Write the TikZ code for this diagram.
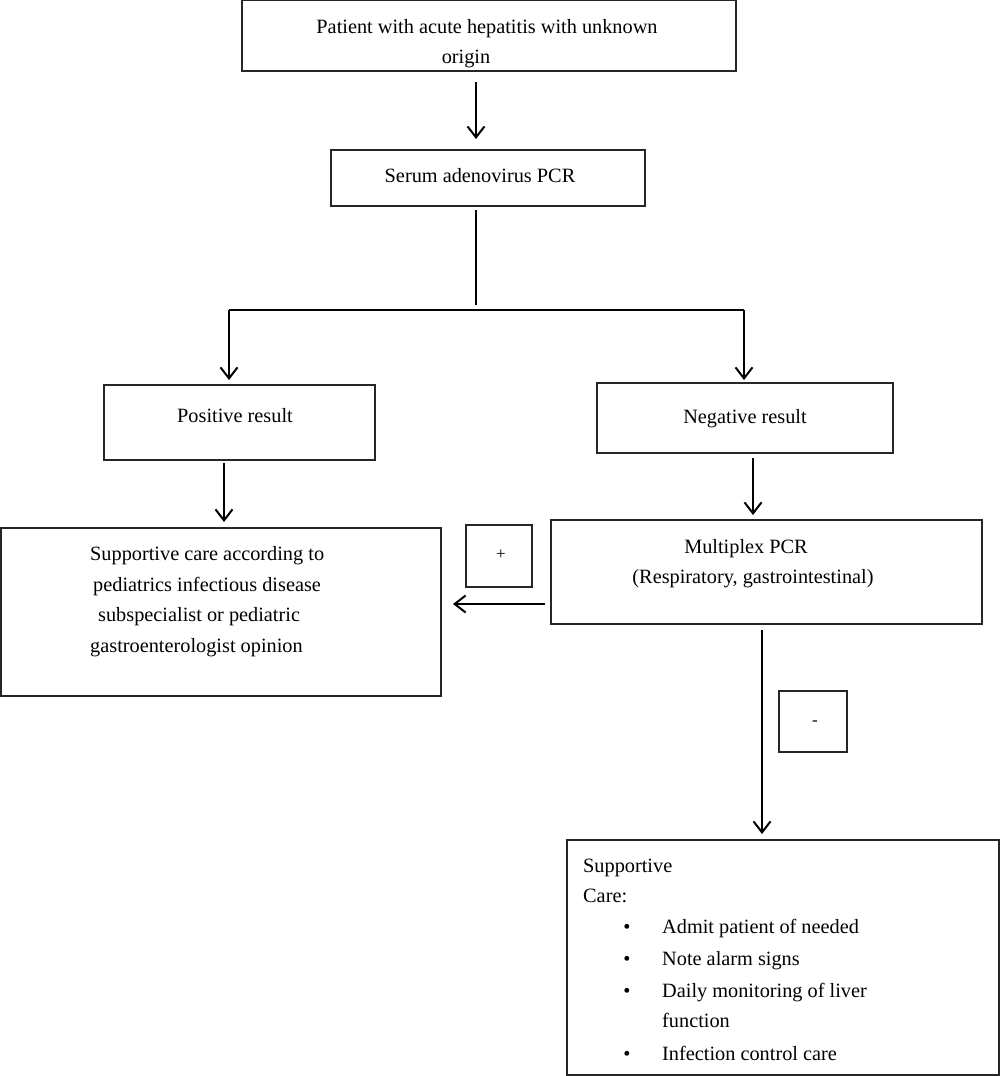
\documentclass[tikz,border=0pt]{standalone}
\usepackage{fontspec}
\setmainfont{Liberation Serif}
\usetikzlibrary{arrows.meta}
\begin{document}
\begin{tikzpicture}[x=1pt,y=-1pt,
  box/.style={draw=black!85,line width=1.2pt,inner sep=0pt,rectangle},
  txt/.style={inner sep=0pt,font=\fontsize{20.3}{31}\selectfont},
  arr/.style={line width=2pt,-{Straight Barb[length=11pt,width=17pt,line width=2pt]}},
  ln/.style={line width=2pt}]
\useasboundingbox (0,0) rectangle (1000,1076);
% boxes
\node[box,minimum width=494,minimum height=71] (b1) at (489,35.5) {};
\node[box,minimum width=314,minimum height=56] (b2) at (488,178) {};
\node[box,minimum width=271,minimum height=75] (pos) at (239.5,422.5) {};
\node[box,minimum width=296,minimum height=70] (neg) at (745,418) {};
\node[box,minimum width=440,minimum height=168] (sup) at (221,612) {};
\node[box,minimum width=66,minimum height=62] (plus) at (499,556) {};
\node[box,minimum width=431,minimum height=104] (mpx) at (766.5,572) {};
\node[box,minimum width=68,minimum height=61] (minus) at (813,721.5) {};
\node[box,minimum width=432,minimum height=235] (care) at (783,957.5) {};
% texts
\node[txt,anchor=base] (t1a) at (487,33) {Patient with acute hepatitis with unknown};
\node[txt,anchor=base] (t1b) at (466,63) {origin};
\node[txt,anchor=base] (t2) at (480,182) {Serum adenovirus PCR};
\node[txt,anchor=base] (tpos) at (235,422) {Positive result};
\node[txt,anchor=base] (tneg) at (745,423) {Negative result};
\node[txt,anchor=base west] (ts1) at (90,560) {Supportive care according to};
\node[txt,anchor=base west] (ts2) at (93,591) {pediatrics infectious disease};
\node[txt,anchor=base west] (ts3) at (98,621) {subspecialist or pediatric};
\node[txt,anchor=base west] (ts4) at (90,652) {gastroenterologist opinion};
\node[txt,font=\fontsize{17}{17}\selectfont] (tplus) at (501,555) {+};
\node[txt,anchor=base] (tm1) at (746,553) {Multiplex PCR};
\node[txt,anchor=base] (tm2) at (753,583) {(Respiratory, gastrointestinal)};
\node[txt,font=\fontsize{17}{17}\selectfont] (tminus) at (815,723) {-};
\node[txt,anchor=base west] (tc1) at (583,872) {Supportive};
\node[txt,anchor=base west] (tc2) at (583,902) {Care:};
\foreach \y/\t [count=\i] in {933/Admit patient of needed,965/Note alarm signs,997/Daily monitoring of liver,1060/Infection control care}{
  \node[txt,anchor=base] (bul\i) at (627,\y) {•};
  \node[txt,anchor=base west] (it\i) at (662,\y) {\t};
}
\node[txt,anchor=base west] (it3b) at (662,1027) {function};
% connectors
\coordinate (a1s) at (476,82);
\coordinate (a1e) at (476,139);
\draw[arr] (a1s) -- (a1e);
\coordinate (j0) at (476,210);
\coordinate (j1) at (476,305);
\draw[ln] (j0) -- (j1);
\coordinate (hl) at (229,310);
\coordinate (hr) at (744,310);
\draw[line width=1.6pt] (hl) -- (hr);
\coordinate (al) at (229,380);
\coordinate (ar) at (744,380);
\draw[arr] (hl) -- (al);
\draw[arr] (hr) -- (ar);
\coordinate (p1) at (224,463);
\coordinate (p2) at (224,522);
\draw[arr] (p1) -- (p2);
\coordinate (n1) at (753,458);
\coordinate (n2) at (753,515);
\draw[arr] (n1) -- (n2);
\coordinate (m1) at (545,604);
\coordinate (m2) at (453,604);
\draw[arr] (m1) -- (m2);
\coordinate (d1) at (762,630);
\coordinate (d2) at (762,834);
\draw[arr] (d1) -- (d2);
\end{tikzpicture}
\end{document}
